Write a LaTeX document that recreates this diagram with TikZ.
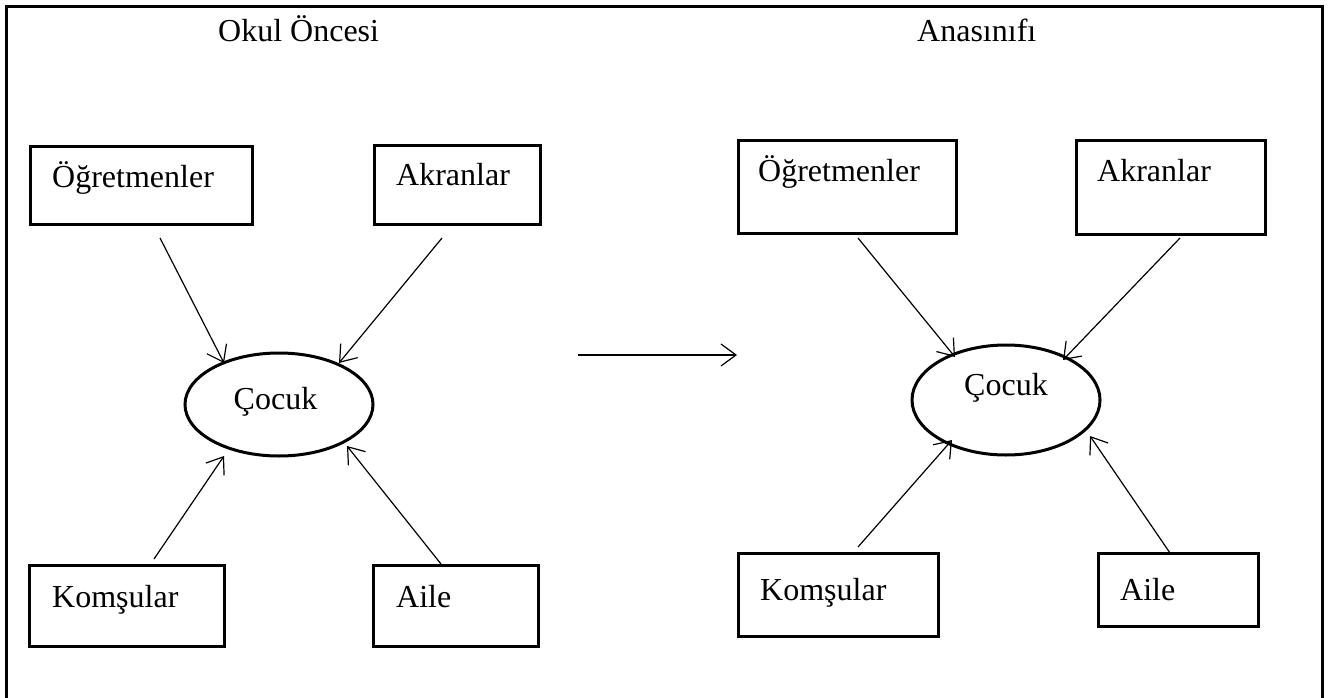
\documentclass[tikz,border=0pt]{standalone}
\usepackage{fontspec}
\setmainfont{Liberation Serif}
\usetikzlibrary{arrows.meta,shapes.geometric}
\begin{document}
\begin{tikzpicture}[x=1pt,y=-1pt,
  box/.style={draw, rectangle, line width=3pt, inner sep=0pt},
  oval/.style={draw, ellipse, line width=3pt, inner sep=0pt},
  lbl/.style={font=\fontsize{32}{38}\selectfont, inner sep=0pt, anchor=base west},
  clbl/.style={font=\fontsize{32}{38}\selectfont, inner sep=0pt, anchor=base},
  conn/.style={line width=1.2pt, -{Straight Barb[length=15pt,width=22pt,line width=1.2pt]}},
  frame/.style={line width=3pt}]
\useasboundingbox (0,0) rectangle (1332,698);
% outer frame (open at the bottom)
\draw[frame] (6,698) -- (6,7) -- (1322,7) -- (1322,698);
% titles
\node[lbl] (t1) at (218,42) {Okul Öncesi};
\node[lbl] (t2) at (917,42) {Anasınıfı};
% left panel
\node[box, minimum width=222, minimum height=78] (o1) at (141,185) {};
\node[box, minimum width=166, minimum height=79] (a1) at (457,184.5) {};
\node[box, minimum width=195, minimum height=81] (k1) at (126.5,605.5) {};
\node[box, minimum width=165, minimum height=81] (f1) at (455.5,605.5) {};
\node[oval, minimum width=188, minimum height=103] (c1) at (279,404.5) {};
\node[lbl] (o1t) at (52,187) {Öğretmenler};
\node[lbl] (a1t) at (396,185) {Akranlar};
\node[lbl] (k1t) at (52,607) {Komşular};
\node[lbl] (f1t) at (396,607) {Aile};
\node[clbl] (c1t) at (275.5,409) {Çocuk};
% right panel
\node[box, minimum width=218, minimum height=93] (o2) at (847,186.5) {};
\node[box, minimum width=189, minimum height=94] (a2) at (1170.5,187) {};
\node[box, minimum width=200, minimum height=83] (k2) at (838,594.5) {};
\node[box, minimum width=160, minimum height=73] (f2) at (1178,589.5) {};
\node[oval, minimum width=188, minimum height=110] (c2) at (1006,400) {};
\node[lbl] (o2t) at (758,181) {Öğretmenler};
\node[lbl] (a2t) at (1097,181) {Akranlar};
\node[lbl] (k2t) at (760,600) {Komşular};
\node[lbl] (f2t) at (1120,600) {Aile};
\node[clbl] (c2t) at (1006,395) {Çocuk};
% connector end points
\coordinate (o1s) at (160,238);  \coordinate (o1e) at (224,363);
\coordinate (a1s) at (442,238);  \coordinate (a1e) at (339,363);
\coordinate (k1s) at (154,559);  \coordinate (k1e) at (224,456);
\coordinate (f1s) at (441,564);  \coordinate (f1e) at (347,446);
\coordinate (o2s) at (858,238);  \coordinate (o2e) at (955,357);
\coordinate (a2s) at (1180,238); \coordinate (a2e) at (1063,360);
\coordinate (k2s) at (858,547);  \coordinate (k2e) at (952,440);
\coordinate (f2s) at (1170,553); \coordinate (f2e) at (1090,436);
\coordinate (ms) at (578,355);   \coordinate (me) at (737,355);
% connectors
\draw[conn] (o1s) -- (o1e);
\draw[conn] (a1s) -- (a1e);
\draw[conn] (k1s) -- (k1e);
\draw[conn] (f1s) -- (f1e);
\draw[conn] (o2s) -- (o2e);
\draw[conn] (a2s) -- (a2e);
\draw[conn] (k2s) -- (k2e);
\draw[conn] (f2s) -- (f2e);
\draw[conn] (ms) -- (me);
\end{tikzpicture}
\end{document}
